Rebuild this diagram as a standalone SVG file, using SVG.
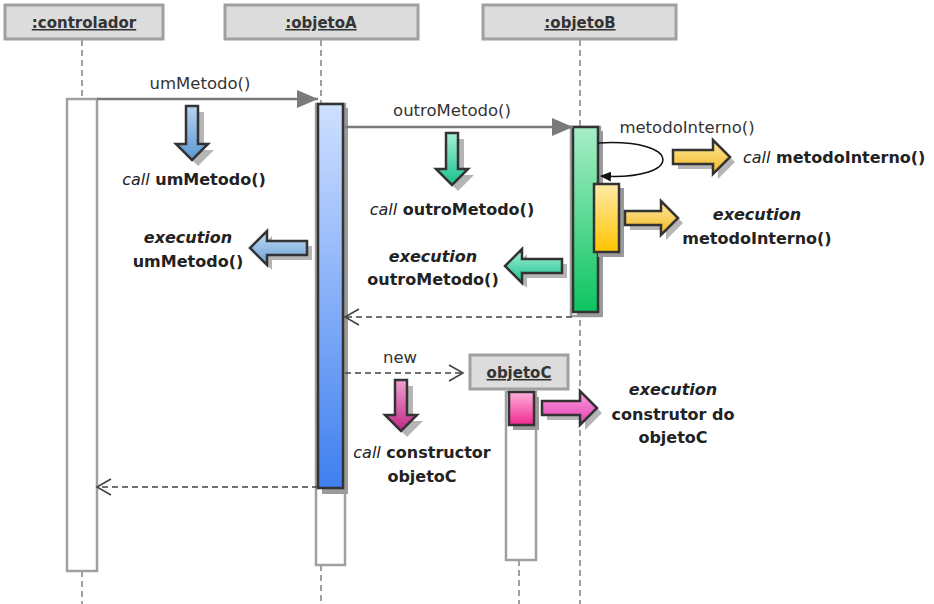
<svg xmlns="http://www.w3.org/2000/svg" width="934" height="604" viewBox="0 0 934 604">
<defs>
<linearGradient id="gBlue" x1="0" y1="0" x2="0" y2="1"><stop offset="0" stop-color="#cfe0ff"/><stop offset="1" stop-color="#3f7ff0"/></linearGradient>
<linearGradient id="gGreen" x1="0" y1="0" x2="0" y2="1"><stop offset="0" stop-color="#a8eec8"/><stop offset="1" stop-color="#0cc460"/></linearGradient>
<linearGradient id="gYellow" x1="0" y1="0" x2="0" y2="1"><stop offset="0" stop-color="#ffeaa8"/><stop offset="1" stop-color="#ffc400"/></linearGradient>
<linearGradient id="gPink" x1="0" y1="0" x2="0" y2="1"><stop offset="0" stop-color="#ffb0dc"/><stop offset="1" stop-color="#ee2a8e"/></linearGradient>
<linearGradient id="aBlue" x1="0" y1="0" x2="0" y2="1"><stop offset="0" stop-color="#b8d4f0"/><stop offset="1" stop-color="#5a96d2"/></linearGradient>
<linearGradient id="aBlueH" x1="0" y1="0" x2="0" y2="1"><stop offset="0" stop-color="#c4dcf4"/><stop offset="1" stop-color="#6aa0d6"/></linearGradient>
<linearGradient id="aGreen" x1="0" y1="0" x2="0" y2="1"><stop offset="0" stop-color="#a8f0d8"/><stop offset="1" stop-color="#18c08c"/></linearGradient>
<linearGradient id="aYellow" x1="0" y1="0" x2="0" y2="1"><stop offset="0" stop-color="#ffe8a0"/><stop offset="1" stop-color="#f2b820"/></linearGradient>
<linearGradient id="aPink" x1="0" y1="0" x2="0" y2="1"><stop offset="0" stop-color="#ff9ce0"/><stop offset="1" stop-color="#e040b0"/></linearGradient>
<linearGradient id="aPinkV" x1="0" y1="0" x2="0" y2="1"><stop offset="0" stop-color="#f0a0d0"/><stop offset="1" stop-color="#c02888"/></linearGradient>
<marker id="filled" markerWidth="22" markerHeight="18" refX="21" refY="9" orient="auto" markerUnits="userSpaceOnUse"><path d="M0,0 L21,9 L0,18 z" fill="#7a7a7a"/></marker>
<marker id="open" markerWidth="18" markerHeight="18" refX="15" refY="9" orient="auto" markerUnits="userSpaceOnUse"><path d="M1,1 L15,9 L1,17" fill="none" stroke="#444" stroke-width="1.6"/></marker>
<marker id="small" markerWidth="12" markerHeight="10" refX="10" refY="5" orient="auto" markerUnits="userSpaceOnUse"><path d="M0,0 L11,5 L0,10 z" fill="#111"/></marker>
</defs>
<style>
.head{fill:#dcdcdc;stroke:#a0a0a0;stroke-width:3}
.htxt{font-family:"DejaVu Sans","Liberation Sans",sans-serif;font-size:15px;font-weight:bold;fill:#333;text-anchor:middle;text-decoration:underline}
.life{stroke:#a0a0a0;stroke-width:2;stroke-dasharray:6,4;fill:none}
.lbox{fill:#fff;stroke:#a0a0a0;stroke-width:2.5}
.act{stroke:#333;stroke-width:2.5}
.shadow{fill:#9a9a9a}
.blk{stroke:#333;stroke-width:2.5;stroke-linejoin:miter}
.ashadow{fill:#a8a8a8;opacity:0.85}
.lbl{font-family:"DejaVu Sans","Liberation Sans",sans-serif;font-size:16.5px;fill:#333;text-anchor:middle}
.note{font-family:"DejaVu Sans","Liberation Sans",sans-serif;font-size:16px;font-weight:bold;fill:#222;text-anchor:middle}
.it{font-style:italic;font-weight:normal}
.bi{font-style:italic}
.msg{stroke:#7a7a7a;stroke-width:2.5;fill:none}
.ret{stroke:#444;stroke-width:1.6;stroke-dasharray:6,4;fill:none}
</style>
<rect width="934" height="604" fill="#fff"/>

<g id="controlador">
<line class="life" x1="82" y1="40" x2="82" y2="99"/>
<line class="life" x1="82" y1="571" x2="82" y2="604"/>
<rect class="head" x="5" y="5" width="158" height="34"/>
<text class="htxt" x="84" y="28">:controlador</text>
<rect class="lbox" x="67" y="99" width="30" height="472"/>
</g>

<g id="objetoA">
<line class="life" x1="321" y1="40" x2="321" y2="104"/>
<line class="life" x1="321" y1="565" x2="321" y2="604"/>
<rect class="head" x="225" y="5" width="193" height="34"/>
<text class="htxt" x="321" y="28">:objetoA</text>
<rect class="lbox" x="316" y="104" width="29" height="461"/>
<rect class="shadow" x="322" y="108" width="26" height="386"/>
<rect class="act" x="318" y="104" width="25" height="384" fill="url(#gBlue)"/>
</g>

<g id="objetoB">
<line class="life" x1="580" y1="40" x2="580" y2="604"/>
<rect class="head" x="483" y="5" width="193" height="34"/>
<text class="htxt" x="580" y="28">:objetoB</text>
<rect class="lbox" x="571" y="127" width="29" height="189"/>
<rect class="shadow" x="577" y="131" width="26" height="186"/>
<rect class="act" x="573" y="127" width="25" height="185" fill="url(#gGreen)"/>
<rect class="shadow" x="598" y="188" width="26" height="69"/>
<rect class="act" x="594" y="184" width="25" height="68" fill="url(#gYellow)"/>
</g>

<g id="objetoC">
<line class="life" x1="519" y1="560" x2="519" y2="604"/>
<rect class="head" x="470" y="355" width="98" height="34"/>
<text class="htxt" x="519" y="378">objetoC</text>
<rect class="lbox" x="506" y="392" width="30" height="168"/>
<rect class="shadow" x="513" y="397" width="26" height="33"/>
<rect class="act" x="509" y="392" width="25" height="33" fill="url(#gPink)"/>
</g>

<g id="connectors">
<line class="msg" x1="97" y1="99" x2="318" y2="99" marker-end="url(#filled)"/>
<text class="lbl" x="200" y="89">umMetodo()</text>
<line class="msg" x1="345" y1="127" x2="573" y2="127" marker-end="url(#filled)"/>
<text class="lbl" x="452" y="116">outroMetodo()</text>
<path d="M598,143 C684,138 684,181 601,176" fill="none" stroke="#111" stroke-width="1.5" marker-end="url(#small)"/>
<text class="lbl" x="687" y="133">metodoInterno()</text>
<line class="ret" x1="572" y1="317" x2="345" y2="317" marker-end="url(#open)"/>
<line class="ret" x1="345" y1="373" x2="463" y2="373" marker-end="url(#open)"/>
<text class="lbl" x="400" y="363">new</text>
<line class="ret" x1="318" y1="487" x2="97" y2="487" marker-end="url(#open)"/>
</g>

<g id="annotations">
<path class="ashadow" d="M192,112 h12 v38 h10 l-16,16 l-16,-16 h10 z"/>
<path class="blk" fill="url(#aBlue)" d="M186,106 h12 v38 h10 l-16,16 l-16,-16 h10 z"/>
<text class="note" x="194" y="185"><tspan class="it">call</tspan> umMetodo()</text>
<path class="ashadow" d="M312,246 v14 h-40 v10 l-17,-17 l17,-17 v10 z"/>
<path class="blk" fill="url(#aBlueH)" d="M307,241 v14 h-40 v10 l-17,-17 l17,-17 v10 z"/>
<text class="note" x="188" y="243"><tspan class="bi">execution</tspan></text>
<text class="note" x="188" y="267">umMetodo()</text>
<path class="ashadow" d="M452,139 h12 v36 h10 l-16,16 l-16,-16 h10 z"/>
<path class="blk" fill="url(#aGreen)" d="M446,133 h12 v36 h10 l-16,16 l-16,-16 h10 z"/>
<text class="note" x="452" y="215"><tspan class="it">call</tspan> outroMetodo()</text>
<path class="ashadow" d="M567,264 v14 h-40 v10 l-17,-17 l17,-17 v10 z"/>
<path class="blk" fill="url(#aGreen)" d="M562,259 v14 h-40 v10 l-17,-17 l17,-17 v10 z"/>
<text class="note" x="433" y="262"><tspan class="bi">execution</tspan></text>
<text class="note" x="433" y="285">outroMetodo()</text>
<path class="ashadow" d="M678,155 h40 v-10 l17,17 l-17,17 v-10 h-40 z"/>
<path class="blk" fill="url(#aYellow)" d="M673,150 h40 v-10 l17,17 l-17,17 v-10 h-40 z"/>
<text class="note" x="743" y="163" style="text-anchor:start"><tspan class="it">call</tspan> metodoInterno()</text>
<path class="ashadow" d="M630,216 h36 v-10 l17,17 l-17,17 v-10 h-36 z"/>
<path class="blk" fill="url(#aYellow)" d="M625,211 h36 v-10 l17,17 l-17,17 v-10 h-36 z"/>
<text class="note" x="757" y="220"><tspan class="bi">execution</tspan></text>
<text class="note" x="757" y="244">metodoInterno()</text>
<path class="ashadow" d="M401,386 h12 v35 h10 l-16,16 l-16,-16 h10 z"/>
<path class="blk" fill="url(#aPinkV)" d="M395,380 h12 v35 h10 l-16,16 l-16,-16 h10 z"/>
<text class="note" x="422" y="458"><tspan class="it">call</tspan> constructor</text>
<text class="note" x="422" y="482">objetoC</text>
<path class="ashadow" d="M547,406 h38 v-10 l17,17 l-17,17 v-10 h-38 z"/>
<path class="blk" fill="url(#aPink)" d="M542,401 h38 v-10 l17,17 l-17,17 v-10 h-38 z"/>
<text class="note" x="673" y="395"><tspan class="bi">execution</tspan></text>
<text class="note" x="673" y="420">construtor do</text>
<text class="note" x="673" y="443">objetoC</text>
</g>
</svg>
